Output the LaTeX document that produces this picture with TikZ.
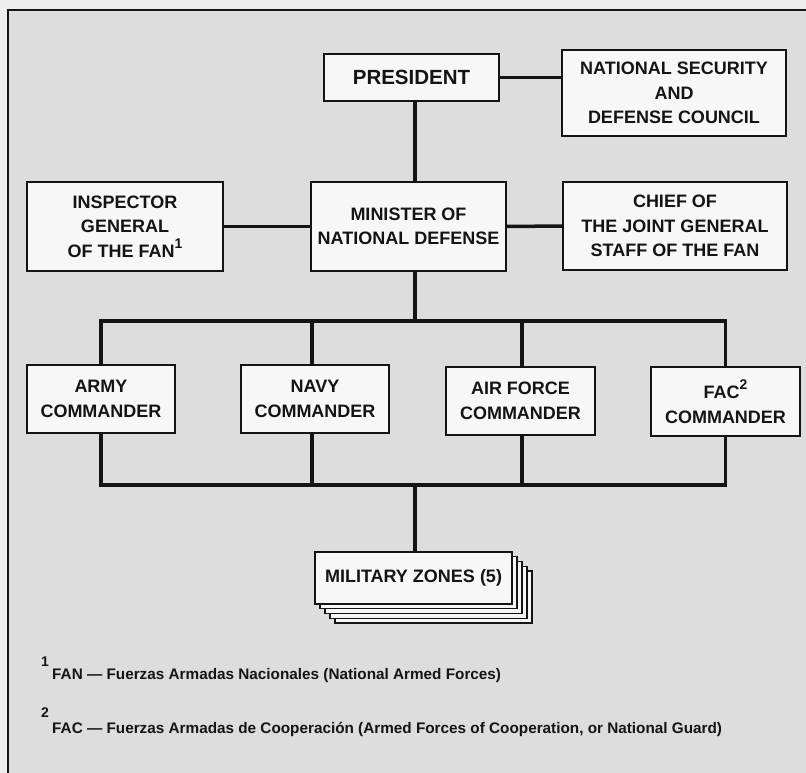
\documentclass[tikz,border=0pt]{standalone}
\usepackage{fontspec}
\setmainfont{Liberation Sans}
\definecolor{outbg}{HTML}{EEEEEE}
\definecolor{inbg}{HTML}{DDDDDD}
\definecolor{boxfill}{HTML}{F7F7F7}
\definecolor{ink}{HTML}{141414}
\newcommand{\supnum}[1]{\raisebox{0.5em}{\fontsize{14}{14}\selectfont #1}}
\begin{document}
\begin{tikzpicture}[x=1pt,y=-1pt,
  orgbox/.style={draw=ink, line width=1.3pt, fill=boxfill, align=center, inner sep=0pt,
    font=\bfseries\fontsize{18}{24.5}\selectfont, text=ink},
  link/.style={draw=ink, line width=3.5pt},
  note/.style={anchor=base west, inner sep=0pt, font=\bfseries\fontsize{15.3}{17}\selectfont, text=ink}]
\useasboundingbox (0,0) rectangle (806,773);
\fill[outbg] (0,0) rectangle (806,773);
\fill[inbg] (8,10) rectangle (806,773);
\draw[ink, line width=2pt] (8,773) -- (8,10) -- (806,10);

\coordinate (spine) at (415,0);
\coordinate (bus1) at (0,321);
\coordinate (bus2) at (0,485);

\node[orgbox, minimum width=175pt, minimum height=47pt, font=\bfseries\fontsize{20.5}{24}\selectfont] (pres) at (411.5,77.5) {PRESIDENT};
\node[orgbox, minimum width=224pt, minimum height=86pt] (nsdc) at (674,93) {NATIONAL SECURITY\\AND\\DEFENSE COUNCIL};
\node[orgbox, minimum width=196pt, minimum height=89pt] (insp) at (125,226.5) {INSPECTOR\\GENERAL\\OF THE FAN\supnum{1}};
\node[orgbox, minimum width=195pt, minimum height=89pt] (mini) at (408.5,226.5) {MINISTER OF\\NATIONAL DEFENSE};
\node[orgbox, minimum width=224pt, minimum height=88pt] (chief) at (675,226) {CHIEF OF\\THE JOINT GENERAL\\STAFF OF THE FAN};

\node[orgbox, minimum width=148pt, minimum height=68pt] (army) at (101,399) {ARMY\\COMMANDER};
\node[orgbox, minimum width=148pt, minimum height=68pt] (navy) at (315,399) {NAVY\\COMMANDER};
\node[orgbox, minimum width=149pt, minimum height=68pt] (af) at (520.5,401) {AIR FORCE\\COMMANDER};
\node[orgbox, minimum width=149pt, minimum height=69pt] (fac) at (725.5,401.5) {FAC\supnum{2}\\COMMANDER};

% stacked sheets behind military zones
\foreach \k in {4,3,2,1}{
  \node[orgbox, minimum width=197pt, minimum height=52pt, line width=1.1pt] (sheet\k) at ({413.5+5*\k},{578+4.75*\k}) {};
}
\node[orgbox, minimum width=197pt, minimum height=52pt] (zones) at (413.5,578) {MILITARY ZONES (5)};

% connectors
\draw[link] (pres.east) -- (nsdc.west |- pres.east);
\draw[link] (pres.south -| spine) -- (mini.north -| spine);
\draw[link] (insp.east) -- (mini.west);
\draw[link] (mini.east) -- (chief.west);
\draw[link] (mini.south -| spine) -- (spine |- bus1);
\draw[link] (army.north) -- (army.north |- bus1) -- (fac.north |- bus1) -- (fac.north);
\draw[link] (navy.north -| 312,0) -- (312,321);
\draw[link] (af.north -| 522,0) -- (522,321);
\draw[link] (army.south) -- (army.south |- bus2) -- (fac.south |- bus2) -- (fac.south);
\draw[link] (navy.south -| 312,0) -- (312,485);
\draw[link] (af.south -| 522,0) -- (522,485);
\draw[link] (spine |- bus2) -- (zones.north -| spine);

% footnotes
\node[note, font=\bfseries\fontsize{14}{14}\selectfont] (n1) at (41,666) {1};
\node[note] (f1) at (52,679) {FAN — Fuerzas Armadas Nacionales (National Armed Forces)};
\node[note, font=\bfseries\fontsize{14}{14}\selectfont] (n2) at (41,717) {2};
\node[note] (f2) at (52,733) {FAC — Fuerzas Armadas de Cooperación (Armed Forces of Cooperation, or National Guard)};
\end{tikzpicture}
\end{document}
